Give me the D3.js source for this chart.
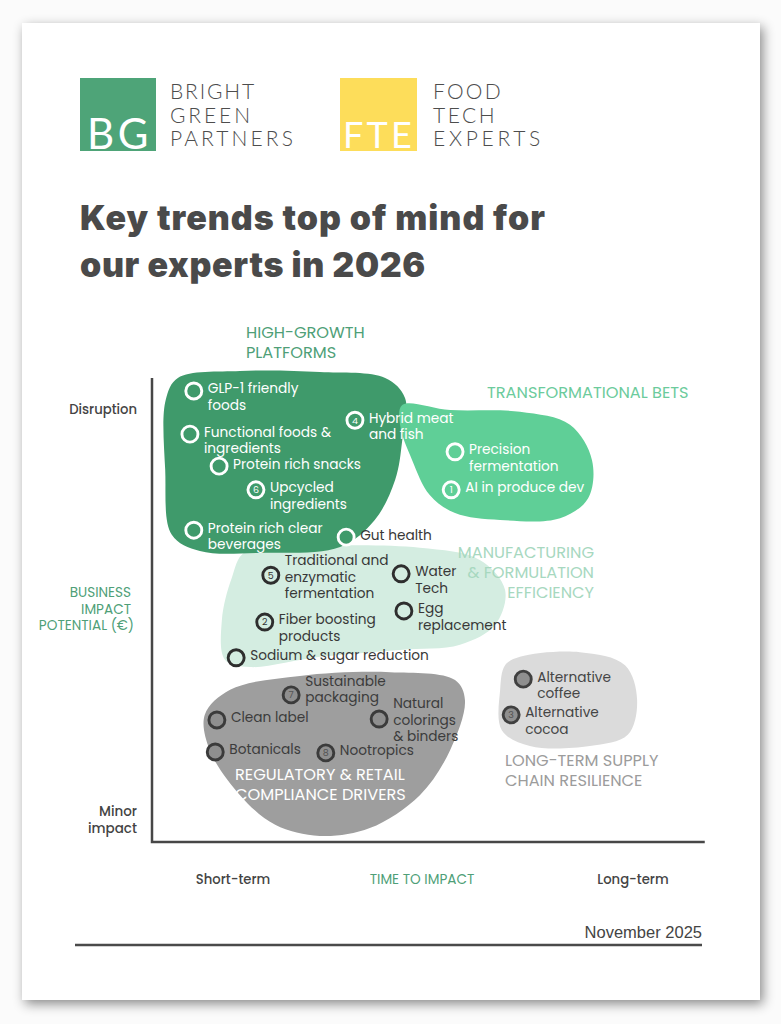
<!DOCTYPE html>
<html><head><meta charset="utf-8">
<script src="https://cdn.jsdelivr.net/npm/d3@7"></script>
<style>body{margin:0;background:#fff}svg{display:block}</style>
</head><body>
<svg id="c" width="781" height="1024"></svg>
<script>
// ---------- DATA ----------
const clusterNames = ["HIGH-GROWTH\nPLATFORMS","TRANSFORMATIONAL BETS","MANUFACTURING\n& FORMULATION\nEFFICIENCY","REGULATORY & RETAIL\nCOMPLIANCE DRIVERS","LONG-TERM SUPPLY\nCHAIN RESILIENCE"];
const trendNames = ["GLP-1 friendly\nfoods","Functional foods &\ningredients","Protein rich snacks","Upcycled\ningredients","Protein rich clear\nbeverages","Hybrid meat\nand fish","Gut health","Precision\nfermentation","AI in produce dev","Traditional and\nenzymatic\nfermentation","Water\nTech","Egg\nreplacement","Fiber boosting\nproducts","Sodium & sugar reduction","Sustainable\npackaging","Clean label","Natural\ncolorings\n& binders","Botanicals","Nootropics","Alternative\ncoffee","Alternative\ncocoa"];
const timeToImpact =   [7.6, 6.9, 12.2, 18.9, 7.6, 36.9, 35.3, 55.1, 54.4, 21.6, 45.3, 45.8, 20.5, 15.3, 25.3, 11.8, 41.3, 11.5, 31.6, 67.5, 65.3];
const businessImpact = [97.2, 87.9, 81.0, 75.9, 67.2, 90.9, 65.7, 84.1, 75.9, 57.5, 57.8, 49.8, 47.4, 39.7, 31.7, 26.3, 26.5, 19.4, 19.2, 35.1, 27.4];
const trendCluster =   [0,0,0,0,0,0,0,1,1,2,2,2,2,2,3,3,3,3,3,4,4];
const trendRank =      [null,null,null,6,null,4,null,null,1,5,null,null,2,null,7,null,null,null,8,null,3];
const clusterOutlines = [
  [[4.7,100],[16.0,101.5],[30.5,101.3],[42.4,100],[46.0,95.7],[45.5,86.6],[44.2,78.0],[40.5,69.4],[34.2,63.6],[19.6,62.3],[8.7,62.7],[3.6,66.2],[2.4,80.2],[2.5,95.3]],
  [[45.5,94.2],[54.2,93.1],[66.9,92.7],[76.0,89.9],[80.0,82.3],[79.3,74.1],[74.2,69.8],[63.3,69.4],[55.1,70.9],[50.5,74.8],[47.3,82.3],[45.1,89.9]],
  [[16.9,62.5],[30.5,63.8],[48.7,63.4],[59.6,60.8],[64.2,54.3],[62.4,46.8],[56.0,42.5],[45.1,41.4],[30.5,39.9],[17.8,37.7],[13.3,39.2],[12.7,47.8],[14.5,56.9]],
  [[14.2,32.8],[26.9,35.8],[43.3,36.6],[55.1,34.9],[56.9,30.6],[54.2,19.8],[48.7,10.1],[39.6,3.0],[30.5,1.3],[22.4,3.7],[16.0,10.1],[10.5,19.8],[9.6,27.4]],
  [[66.9,39.9],[77.8,40.9],[86.0,38.1],[88.2,30.6],[86.5,23.1],[79.6,20.7],[68.7,20.7],[63.6,24.1],[63.3,32.8],[64.2,38.1]]
];
const yTickLabels = ["Disruption","BUSINESS\nIMPACT\nPOTENTIAL (€)","Minor\nimpact"];
const xTickLabels = ["Short-term","TIME TO IMPACT","Long-term"];
const titleLines = ["Key trends top of mind for","our experts in 2026"];
const dateLabel = "November 2025";
const logoWords = [["BRIGHT","GREEN","PARTNERS"],["FOOD","TECH","EXPERTS"]];
const logoMarks = ["BG","FTE"];

// ---------- LAYOUT / STYLE ----------
const W = 781, H = 1024;
const FONT = "'Poppins','Open Sans','Noto Sans',sans-serif";
const svg = d3.select("#c");
const x = d3.scaleLinear().domain([0,100]).range([152,702]);
const y = d3.scaleLinear().domain([0,100]).range([842,378]);

function fitSpacing(sel, target){
  const node = sel.node();
  const w = node.getComputedTextLength();
  const n = sel.text().length;
  sel.attr("letter-spacing", ((target - w) / n).toFixed(2));
}

const clusterFill = ["#3f9a6b","#5fcf97","#d4ede1","#9e9e9e","#dbdbdb"];
const drawOrder = [2,3,4,0,1];
const markerStroke = ["#ffffff","#ffffff","#2e2e2e","#3b3b3b","#404040"];
const markerFill = ["none","none","none","#8f8f8f","#8f8f8f"];
const labelColor = ["#ffffff","#ffffff","#383838","#3c3c3c","#454545"];
const anchorLine = {"Traditional and\nenzymatic\nfermentation":0.75,"Natural\ncolorings\n& binders":0.8,"Sustainable\npackaging":0.7};
const filledMarker = {"Gut health":true};

const defs = svg.append("defs");
const f = defs.append("filter").attr("id","sh").attr("x","-10%").attr("y","-10%").attr("width","120%").attr("height","120%");
f.append("feDropShadow").attr("dx",3).attr("dy",4).attr("stdDeviation",6).attr("flood-color","#000").attr("flood-opacity",0.45);

svg.append("rect").attr("width",W).attr("height",H).attr("fill","#fbfbfb");
svg.append("rect").attr("x",22).attr("y",23).attr("width",738).attr("height",977).attr("fill","#fff").attr("filter","url(#sh)");

// logos
const logo = svg.append("g");
const markBox = [[80,76,"#4ea478",[87,152],149,42],[340,77,"#fddd5a",[343,415],148,36]];
logoMarks.forEach((m,i)=>{
  const b = markBox[i];
  logo.append("rect").attr("x",b[0]).attr("y",78).attr("width",b[1]).attr("height",73).attr("fill",b[2]);
  const t = logo.append("text").attr("x",b[3][0]).attr("y",b[4]).attr("fill","#fff")
    .attr("font-family","Lato,sans-serif").attr("font-size",b[5]).attr("font-weight",400).text(m);
  fitSpacing(t, b[3][1]-b[3][0]);
});
const wordBlock = [[170,[86,83,126]],[433,[70,64,111]]];
logoWords.forEach((ws,j)=>{
  ws.forEach((wd,i)=>{
    const t = logo.append("text").attr("x",wordBlock[j][0]).attr("y",99+i*23.5).attr("fill","#4d4d4d")
      .attr("font-family","Lato,sans-serif").attr("font-weight",300).attr("font-size",21).text(wd);
    fitSpacing(t, wordBlock[j][1][i]);
  });
});

// title
const titleW = [466, 346];
titleLines.forEach((tl,i)=>{
  const t = svg.append("text").attr("x",80).attr("y",230+i*47).attr("fill","#4a4a4a")
    .attr("font-family","Inter,sans-serif").attr("font-weight",900).attr("font-size",34).text(tl);
  fitSpacing(t, titleW[i]);
});

// blobs
const line = d3.line().x(d=>x(d[0])).y(d=>y(d[1])).curve(d3.curveCatmullRomClosed.alpha(0.5));
svg.append("g").selectAll("path").data(drawOrder).join("path")
  .attr("d",i=>line(clusterOutlines[i])).attr("fill",i=>clusterFill[i]);

// axes
svg.append("path").attr("d",`M${x(0)},${y(100)}V${y(0)}H${x(100.5)}`)
  .attr("fill","none").attr("stroke","#474747").attr("stroke-width",2.5);

// cluster titles
const clusterTitlePos = [[246,338,"start","#4f9f78"],[487,398,"start","#6ccb9c"],[594,558,"end","#a7d8bf"],[235,780,"start","#ffffff"],[505,766,"start","#9c9c9c"]];
clusterNames.forEach((n,i)=>{
  const p = clusterTitlePos[i];
  const t = svg.append("text").attr("x",p[0]).attr("y",p[1]).attr("text-anchor",p[2]).attr("fill",p[3])
    .attr("font-family",FONT).attr("font-size",16.2);
  n.split("\n").forEach((s,k)=>t.append("tspan").attr("x",p[0]).attr("dy",k?20:0).text(s));
});

// markers and labels
const g = svg.append("g");
trendNames.forEach((name,i)=>{
  const cx = x(timeToImpact[i]), cy = y(businessImpact[i]), c = trendCluster[i];
  const filled = filledMarker[name];
  g.append("circle").attr("cx",cx).attr("cy",cy).attr("r",8)
    .attr("fill",filled?clusterFill[0]:markerFill[c]).attr("stroke",markerStroke[c]).attr("stroke-width",2.9);
  if(trendRank[i]!=null){
    g.append("text").attr("x",cx).attr("y",cy+3.4).attr("text-anchor","middle").attr("font-family",FONT)
      .attr("font-size",9.5).attr("fill",c<2?"#fff":(c===2?"#333":"#555")).text(trendRank[i]);
  }
  const lines = name.split("\n"), a = anchorLine[name]||0;
  const t = g.append("text").attr("font-family",FONT).attr("font-size",13.7)
    .attr("fill",filled?"#383838":labelColor[c]);
  lines.forEach((s,k)=>t.append("tspan").attr("x",cx+14).attr("y",cy+(k-a)*16.5+2.4).text(s));
});

// axis labels
const yl = [[137,414,"#444",500,13.2],[131,597,"#4f9f78",400,13.6],[137,816,"#444",500,13.5]];
yTickLabels.forEach((n,i)=>{
  const p = yl[i];
  const t = svg.append("text").attr("text-anchor","end").attr("fill",p[2]).attr("font-family",FONT)
    .attr("font-size",p[4]).attr("font-weight",p[3]);
  n.split("\n").forEach((s,k)=>t.append("tspan").attr("x",p[0]+(i===1&&k===2?3:0)).attr("y",p[1]+k*(i===1?16.5:17)).text(s));
});
const xl = [[233,"#444",500,13.2],[422,"#4f9f78",400,13.6],[633,"#444",500,13.2]];
xTickLabels.forEach((n,i)=>{
  svg.append("text").attr("x",xl[i][0]).attr("y",884).attr("text-anchor","middle").attr("fill",xl[i][1])
    .attr("font-family",FONT).attr("font-size",xl[i][3]).attr("font-weight",xl[i][2]).text(n);
});

// footer
svg.append("text").attr("x",702).attr("y",938).attr("text-anchor","end").attr("fill","#444")
  .attr("font-family","'Liberation Sans',Arial,sans-serif").attr("font-size",16.5).text(dateLabel);
svg.append("line").attr("x1",75).attr("x2",702).attr("y1",945).attr("y2",945).attr("stroke","#4a4a4a").attr("stroke-width",2.6);
</script>
</body></html>
